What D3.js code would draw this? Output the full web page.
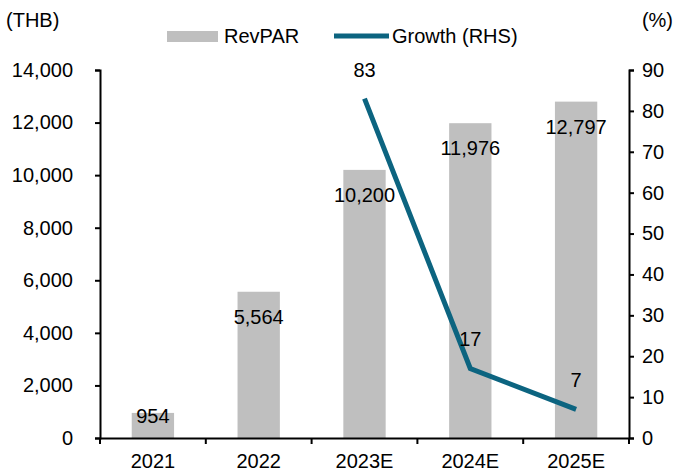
<!DOCTYPE html>
<html>
<head>
<meta charset="utf-8">
<script src="https://cdn.jsdelivr.net/npm/d3@7"></script>
<style>
  body { margin: 0; background: #fff; }
  text { font-family: "Liberation Sans", Arial, sans-serif; fill: #000; }
</style>
</head>
<body>
<svg id="main-svg"></svg>
<script>
const years = ["2021", "2022", "2023E", "2024E", "2025E"];
const revpar = [954, 5564, 10200, 11976, 12797];
const growth = [null, null, 83, 17, 7];
const leftTicks = [0, 2000, 4000, 6000, 8000, 10000, 12000, 14000];
const rightTicks = [0, 10, 20, 30, 40, 50, 60, 70, 80, 90];

let width = 678, height = 473;
let margin = {top: 70, right: 49, bottom: 35, left: 100};
let barColor = "#bfbfbf", lineColor = "#0c6480";
let fontSize = 20;

let svg = d3.select('#main-svg').attr('width', width).attr('height', height);

let x = d3.scaleBand().domain(years).range([margin.left, width - margin.right]);
let yL = d3.scaleLinear().domain([0, 14000]).range([height - margin.bottom, margin.top]);
let yR = d3.scaleLinear().domain([0, 90]).range([height - margin.bottom, margin.top]);

let barW = x.bandwidth() * 0.4;

// bars
svg.selectAll(".bar")
  .data(years)
  .enter()
  .append("rect")
  .attr("x", d => x(d) + (x.bandwidth() - barW) / 2)
  .attr("width", barW)
  .attr("y", (d, i) => yL(revpar[i]))
  .attr("height", (d, i) => yL(0) - yL(revpar[i]))
  .attr("fill", barColor);

// bar labels, inside end
svg.selectAll(".bar-label")
  .data(years)
  .enter()
  .append("text")
  .attr("x", d => x(d) + x.bandwidth() / 2)
  .attr("y", (d, i) => Math.min(yL(revpar[i]) + 25, yL(0) - 22))
  .attr("dy", "0.35em")
  .attr("text-anchor", "middle")
  .style("font-size", fontSize + "px")
  .text((d, i) => d3.format(",")(revpar[i]));

// growth line
let pts = years.map((d, i) => ({year: d, v: growth[i]})).filter(d => d.v !== null);
let line = d3.line()
  .x(d => x(d.year) + x.bandwidth() / 2)
  .y(d => yR(d.v));

svg.append("path")
  .datum(pts)
  .attr("d", line)
  .attr("fill", "none")
  .attr("stroke", lineColor)
  .attr("stroke-width", 5);

svg.selectAll(".line-label")
  .data(pts)
  .enter()
  .append("text")
  .attr("x", d => x(d.year) + x.bandwidth() / 2)
  .attr("y", d => yR(d.v) - 29)
  .attr("dy", "0.35em")
  .attr("text-anchor", "middle")
  .style("font-size", fontSize + "px")
  .text(d => d.v);

// axes
let axisL = svg.append("g")
  .attr("transform", `translate(${margin.left},0)`)
  .call(d3.axisLeft(yL).tickValues(leftTicks).tickFormat(d3.format(",")).tickSize(5).tickPadding(22));

let axisR = svg.append("g")
  .attr("transform", `translate(${width - margin.right},0)`)
  .call(d3.axisRight(yR).tickValues(rightTicks).tickSize(5).tickPadding(8));

let axisB = svg.append("g")
  .attr("transform", `translate(0,${height - margin.bottom})`)
  .call(d3.axisBottom(x).tickSize(0).tickPadding(16));

// category boundary ticks on x axis
axisB.selectAll(".sep")
  .data(years.concat(["end"]))
  .enter()
  .append("line")
  .attr("x1", (d, i) => i < years.length ? x(d) : x(years[years.length - 1]) + x.bandwidth())
  .attr("x2", (d, i) => i < years.length ? x(d) : x(years[years.length - 1]) + x.bandwidth())
  .attr("y1", 0)
  .attr("y2", 6)
  .attr("stroke", "#000")
  .attr("stroke-width", 2);

[axisL, axisR, axisB].forEach(a => {
  a.selectAll("text").style("font-size", fontSize + "px").attr("fill", "#000")
    .style("font-family", '"Liberation Sans", Arial, sans-serif');
  a.selectAll("path, line").attr("stroke", "#000").attr("stroke-width", 2);
});
axisL.selectAll(".tick text").attr("text-anchor", "end");

// unit labels
svg.append("text").attr("x", 6).attr("y", 27).style("font-size", fontSize + "px").text("(THB)");
svg.append("text").attr("x", 673).attr("y", 27).attr("text-anchor", "end").style("font-size", fontSize + "px").text("(%)");

// legend
let legend = svg.append("g");
legend.append("rect").attr("x", 167).attr("y", 31).attr("width", 51).attr("height", 11).attr("fill", barColor);
legend.append("text").attr("x", 224).attr("y", 36).attr("dy", "0.35em").style("font-size", fontSize + "px").text("RevPAR");
legend.append("line").attr("x1", 334).attr("x2", 389).attr("y1", 36).attr("y2", 36)
  .attr("stroke", lineColor).attr("stroke-width", 5);
legend.append("text").attr("x", 392).attr("y", 36).attr("dy", "0.35em").style("font-size", fontSize + "px").text("Growth (RHS)");
</script>
</body>
</html>
